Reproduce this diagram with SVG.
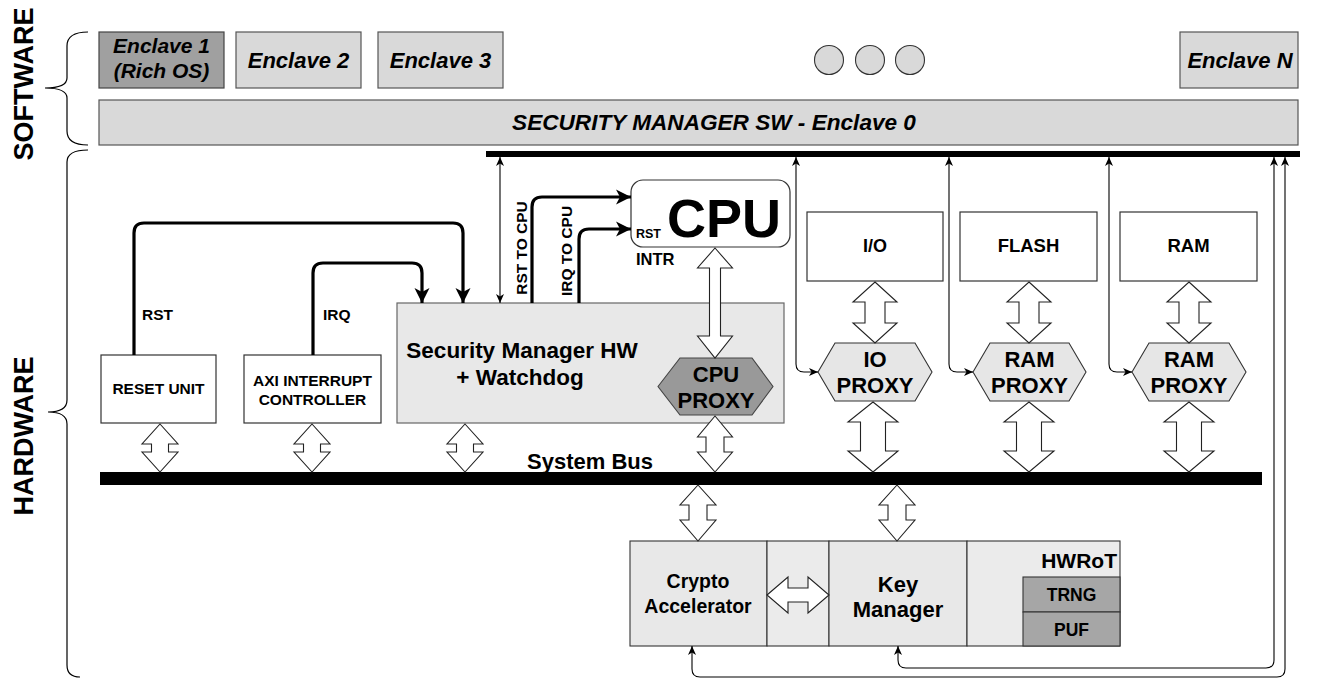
<svg xmlns="http://www.w3.org/2000/svg" width="1333" height="680" viewBox="0 0 1333 680">
<style>
.t{font-family:"Liberation Sans",Arial,sans-serif;font-weight:bold;fill:#000}
.i{font-style:italic}
.m{text-anchor:middle}
.enc{fill:#d9d9d9;stroke:#555;stroke-width:1.2}
.box{fill:#fff;stroke:#333;stroke-width:1.2}
.lt{fill:#e8e8e8;stroke:#444;stroke-width:1.2}
.dk{fill:#a0a0a0;stroke:#444;stroke-width:1.2}
.ba{fill:#fff;stroke:#222;stroke-width:1.1;stroke-linejoin:miter}
.thick{fill:none;stroke:#000;stroke-width:3.2}
.thin{fill:none;stroke:#000;stroke-width:1.1}
.brace{fill:none;stroke:#000;stroke-width:1.2}
.bus{fill:#000}
</style>
<defs>
<marker id="ah" markerWidth="16" markerHeight="16" refX="15" refY="8" orient="auto-start-reverse" markerUnits="userSpaceOnUse"><path d="M0,0.5 L15,8 L0,15.5 L4,8 Z" fill="#000"/></marker>
<marker id="as" markerWidth="10" markerHeight="10" refX="9" refY="4.5" orient="auto-start-reverse" markerUnits="userSpaceOnUse"><path d="M0,0.5 L9,4.5 L0,8.5 L2.5,4.5 Z" fill="#000"/></marker>
</defs>
<rect width="1333" height="680" fill="#fff"/>

<g id="labels">
<text class="t m" font-size="27" transform="translate(33,84) rotate(-90)">SOFTWARE</text>
<text class="t m" font-size="27" transform="translate(33,436) rotate(-90)">HARDWARE</text>
<path class="brace" d="M88,32 Q67,32 67,46 V78 Q67,88 45,88 Q67,88 67,98 V131 Q67,145 88,145"/>
<path class="brace" d="M88,150 Q67,150 67,162 V400 Q67,412 48,412 Q67,412 67,424 V665 Q67,677 80,677"/>
</g>

<g id="enclave1"><rect class="dk" x="99" y="32" width="125" height="56"/><text class="t i m" font-size="21" x="161.5" y="53">Enclave 1</text><text class="t i m" font-size="21" x="161.5" y="78">(Rich OS)</text></g>
<g id="enclave2"><rect class="enc" x="236" y="32" width="125" height="56"/><text class="t i m" font-size="22" x="298.5" y="68">Enclave 2</text></g>
<g id="enclave3"><rect class="enc" x="378" y="32" width="125" height="56"/><text class="t i m" font-size="22" x="440.5" y="68">Enclave 3</text></g>
<g id="dots"><circle cx="829" cy="60" r="14.5" fill="#d9d9d9" stroke="#333" stroke-width="1.1"/><circle cx="870" cy="60" r="14.5" fill="#d9d9d9" stroke="#333" stroke-width="1.1"/><circle cx="910" cy="60" r="14.5" fill="#d9d9d9" stroke="#333" stroke-width="1.1"/></g>
<g id="enclaveN"><rect class="enc" x="1180" y="32" width="118" height="56"/><text class="t i m" font-size="22" x="1240" y="68">Enclave N</text></g>
<g id="smsw"><rect class="enc" x="99" y="100" width="1199" height="45"/><text class="t i m" font-size="22.6" x="714" y="130">SECURITY MANAGER SW - Enclave 0</text></g>

<g id="buses">
<rect class="bus" x="486" y="151" width="814" height="6"/>
<rect class="bus" x="100" y="472" width="1162" height="13"/>
<text class="t m" font-size="22" x="590" y="469">System Bus</text>
</g>

<g id="cpu"><rect class="box" x="631" y="180" width="159" height="67" rx="12"/><text class="t" font-size="54" x="667" y="237">CPU</text><text class="t" font-size="12.5" x="636" y="238">RST</text><text class="t" font-size="16.5" x="636" y="265">INTR</text></g>
<g id="io"><rect class="box" x="807" y="212" width="136" height="69"/><text class="t m" font-size="18" x="875" y="252">I/O</text></g>
<g id="flash"><rect class="box" x="960" y="212" width="137" height="69"/><text class="t m" font-size="18.5" x="1028.5" y="252">FLASH</text></g>
<g id="ram"><rect class="box" x="1120" y="212" width="137" height="69"/><text class="t m" font-size="18.5" x="1188.5" y="252">RAM</text></g>

<g id="reset"><rect class="box" x="101" y="355" width="115" height="68"/><text class="t m" font-size="15.5" x="158.5" y="394">RESET UNIT</text></g>
<g id="axi"><rect class="box" x="244" y="355" width="137" height="68"/><text class="t m" font-size="15.5" x="312.5" y="386">AXI INTERRUPT</text><text class="t m" font-size="15.5" x="312.5" y="405">CONTROLLER</text></g>
<g id="smhw"><rect class="lt" x="397" y="303" width="387" height="120" style="stroke:#666"/><text class="t m" font-size="22.5" x="522" y="358">Security Manager HW</text><text class="t m" font-size="22.5" x="520" y="385">+ Watchdog</text></g>
<g id="cpuproxy"><polygon points="658,386.5 680,358 752,358 773,386.5 752,415 680,415" fill="#999" stroke="#444" stroke-width="1.1"/><text class="t m" font-size="22" x="716" y="382">CPU</text><text class="t m" font-size="22" x="716" y="408">PROXY</text></g>
<g id="ioproxy"><polygon points="818,372 835,343 915,343 932,372 915,401 835,401" fill="#e6e6e6" stroke="#333" stroke-width="1.1"/><text class="t m" font-size="22" x="875" y="367">IO</text><text class="t m" font-size="22" x="875" y="393">PROXY</text></g>
<g id="ramproxy1"><polygon points="973,372 990,343 1069,343 1086,372 1069,401 990,401" fill="#e6e6e6" stroke="#333" stroke-width="1.1"/><text class="t m" font-size="22" x="1029.5" y="367">RAM</text><text class="t m" font-size="22" x="1029.5" y="393">PROXY</text></g>
<g id="ramproxy2"><polygon points="1132,372 1149,343 1229,343 1246,372 1229,401 1149,401" fill="#e6e6e6" stroke="#333" stroke-width="1.1"/><text class="t m" font-size="22" x="1189" y="367">RAM</text><text class="t m" font-size="22" x="1189" y="393">PROXY</text></g>

<g id="hwrot-block">
<rect x="630" y="541" width="137" height="105" fill="#e8e8e8" stroke="#333" stroke-width="1.1"/>
<rect x="767" y="541" width="62" height="105" fill="#ebebeb" stroke="#333" stroke-width="1.1"/>
<rect x="829" y="541" width="138" height="105" fill="#e8e8e8" stroke="#333" stroke-width="1.1"/>
<rect x="967" y="541" width="153" height="105" fill="#ebebeb" stroke="#333" stroke-width="1.1"/>
<rect x="1023" y="577" width="97" height="35" fill="#a6a6a6" stroke="#333" stroke-width="1.1"/>
<rect x="1023" y="612" width="97" height="34" fill="#a6a6a6" stroke="#333" stroke-width="1.1"/>
<text class="t m" font-size="19.5" x="698" y="588">Crypto</text><text class="t m" font-size="19.5" x="698" y="613">Accelerator</text>
<text class="t m" font-size="22" x="898" y="592">Key</text><text class="t m" font-size="22" x="898" y="617">Manager</text>
<text class="t" font-size="21" x="1117" y="568" text-anchor="end">HWRoT</text>
<text class="t m" font-size="17.5" x="1071.5" y="601">TRNG</text>
<text class="t m" font-size="17.5" x="1071.5" y="636">PUF</text>
</g>

<g id="connectors">
<path class="thick" marker-end="url(#ah)" d="M134,355 V233 Q134,223 144,223 H453 Q463,223 463,233 V303"/>
<path class="thick" marker-end="url(#ah)" d="M313,355 V273 Q313,263 323,263 H412 Q422,263 422,273 V303"/>
<path class="thick" marker-end="url(#ah)" d="M532,303 V207 Q532,197 542,197 H631"/>
<path class="thick" marker-end="url(#ah)" d="M579,303 V239 Q579,229 589,229 H631"/>
<text class="t m" font-size="15.5" x="0" y="0" transform="translate(527,248) rotate(-90)">RST TO CPU</text>
<text class="t m" font-size="15.5" x="0" y="0" transform="translate(572,251) rotate(-90)">IRQ TO CPU</text>
<text class="t" font-size="15.5" x="142" y="320">RST</text>
<text class="t" font-size="15.5" x="323" y="320">IRQ</text>

<path class="thin" marker-start="url(#as)" marker-end="url(#as)" d="M500,157 V303"/>
<path class="thin" marker-start="url(#as)" marker-end="url(#as)" d="M796,157 V364 Q796,372 804,372 H818"/>
<path class="thin" marker-start="url(#as)" marker-end="url(#as)" d="M949,157 V364 Q949,372 957,372 H973"/>
<path class="thin" marker-start="url(#as)" marker-end="url(#as)" d="M1109,157 V364 Q1109,372 1117,372 H1132"/>
<path class="thin" marker-start="url(#as)" marker-end="url(#as)" d="M1274,157 V660 Q1274,668 1266,668 H906 Q898,668 898,660 V646"/>
<path class="thin" marker-start="url(#as)" marker-end="url(#as)" d="M1285,157 V669 Q1285,677 1277,677 H700 Q692,677 692,669 V646"/>

<polygon class="ba" points="160,424 178,444 168.5,444 168.5,452 178,452 160,472 142,452 151.5,452 151.5,444 142,444"/>
<polygon class="ba" points="312,424 330,444 320.5,444 320.5,452 330,452 312,472 294,452 303.5,452 303.5,444 294,444"/>
<polygon class="ba" points="465,424 483,444 473.5,444 473.5,452 483,452 465,472 447,452 456.5,452 456.5,444 447,444"/>
<polygon class="ba" points="715,416 732.5,437 724,437 724,452 732.5,452 715,472 697.5,452 706,452 706,437 697.5,437"/>
<polygon class="ba" points="715,248 732.5,268 720.5,268 720.5,336 732.5,336 715,358 697.5,336 709.5,336 709.5,268 697.5,268"/>
<polygon class="ba" points="875,282 897,302 885,302 885,323 897,323 875,343 853,323 865,323 865,302 853,302"/>
<polygon class="ba" points="1029,282 1051,302 1039,302 1039,323 1051,323 1029,343 1007,323 1019,323 1019,302 1007,302"/>
<polygon class="ba" points="1189,282 1211,302 1199,302 1199,323 1211,323 1189,343 1167,323 1179,323 1179,302 1167,302"/>
<polygon class="ba" points="873,402 898,422 885.5,422 885.5,451 898,451 873,472 848,451 860.5,451 860.5,422 848,422"/>
<polygon class="ba" points="1029,402 1054,422 1041.5,422 1041.5,451 1054,451 1029,472 1004,451 1016.5,451 1016.5,422 1004,422"/>
<polygon class="ba" points="1189,402 1214,422 1201.5,422 1201.5,451 1214,451 1189,472 1164,451 1176.5,451 1176.5,422 1164,422"/>
<polygon class="ba" points="698,485 716,505 707,505 707,520 716,520 698,541 680,520 689,520 689,505 680,505"/>
<polygon class="ba" points="897,485 915,505 906,505 906,520 915,520 897,541 879,520 888,520 888,505 879,505"/>
<polygon class="ba" points="767,595 788,577 788,588 808,588 808,577 829,595 808,613 808,602 788,602 788,613"/>
</g>
</svg>
